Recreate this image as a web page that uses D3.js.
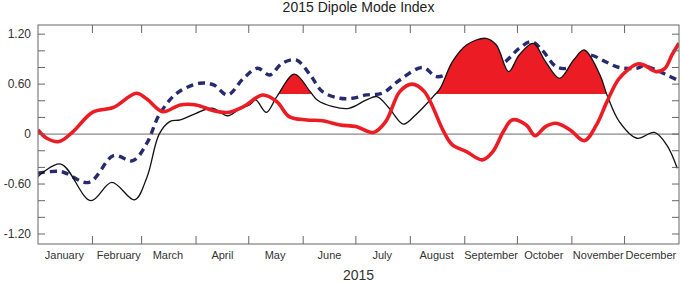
<!DOCTYPE html>
<html>
<head>
<meta charset="utf-8">
<script src="https://cdn.jsdelivr.net/npm/d3@7"></script>
<style>
  html, body { margin: 0; padding: 0; background: #fff; }
  svg { display: block; font-family: "Liberation Sans", Arial, sans-serif; }
</style>
</head>
<body>
<svg id="chart" width="682" height="284"></svg>
<script>
// 2015 DMI: observed (black, filled above threshold), dashed navy, red.
// days = day of year (0 = 1 Jan 2015)
const blackDays = [0, 13, 30, 42, 55, 62, 69, 75, 81, 90, 99, 108, 114, 121, 124, 130, 136, 146, 155, 159, 168, 177, 187, 193, 200, 208, 215, 225, 229, 236, 244, 255, 261, 268, 274, 282, 289, 297, 305, 311, 320, 324, 331, 341, 351, 358, 364];
const blackValues = [-0.51, -0.36, -0.80, -0.58, -0.79, -0.52, 0.0, 0.15, 0.17, 0.25, 0.31, 0.22, 0.29, 0.36, 0.41, 0.26, 0.45, 0.72, 0.51, 0.41, 0.33, 0.31, 0.41, 0.45, 0.31, 0.12, 0.23, 0.45, 0.55, 0.87, 1.07, 1.15, 1.07, 0.75, 0.95, 1.09, 0.87, 0.67, 0.89, 1.01, 0.71, 0.47, 0.15, -0.05, 0.02, -0.13, -0.41];

const redDays = [0, 5, 12, 20, 31, 43, 56, 62, 71, 81, 90, 100, 108, 117, 128, 136, 143, 153, 162, 172, 181, 191, 198, 206, 213, 220, 231, 236, 244, 253, 259, 265, 270, 278, 283, 289, 295, 303, 311, 318, 324, 331, 341, 345, 352, 357, 361, 365];
const redValues = [0.05, -0.05, -0.09, 0.03, 0.26, 0.32, 0.49, 0.42, 0.27, 0.35, 0.35, 0.28, 0.26, 0.33, 0.47, 0.39, 0.21, 0.17, 0.16, 0.11, 0.09, 0.02, 0.15, 0.51, 0.60, 0.51, 0.03, -0.13, -0.21, -0.31, -0.21, 0.03, 0.17, 0.11, -0.02, 0.09, 0.13, 0.05, -0.08, 0.11, 0.39, 0.67, 0.84, 0.83, 0.75, 0.79, 0.95, 1.09];

const dashDays = [0, 13, 29, 43, 54, 62, 69, 79, 92, 100, 108, 117, 125, 132, 139, 147, 155, 162, 172, 179, 187, 196, 206, 219, 227, 236, 249, 264, 274, 281, 287, 295, 301, 307, 314, 323, 331, 341, 345, 352, 358, 364];
const dashValues = [-0.47, -0.45, -0.58, -0.26, -0.32, -0.11, 0.23, 0.49, 0.61, 0.59, 0.47, 0.67, 0.79, 0.71, 0.85, 0.89, 0.71, 0.51, 0.43, 0.43, 0.47, 0.49, 0.65, 0.80, 0.69, 0.74, 0.77, 0.84, 1.03, 1.11, 1.01, 0.81, 0.79, 0.87, 0.95, 0.87, 0.80, 0.79, 0.82, 0.77, 0.71, 0.65];

const threshold = 0.48;
const yTicks = [-1.2, -1.0, -0.8, -0.6, -0.4, -0.2, 0, 0.2, 0.4, 0.6, 0.8, 1.0, 1.2];
const yLabels = { "-1.2": "-1.20", "-0.6": "-0.60", "0": "0", "0.6": "0.60", "1.2": "1.20" };
const monthNames = ["January", "February", "March", "April", "May", "June", "July", "August", "September", "October", "November", "December"];

const W = 682, H = 284;
const margin = { top: 25, right: 3, bottom: 40, left: 38 };
const iw = W - margin.left - margin.right, ih = H - margin.top - margin.bottom;

const svg = d3.select("#chart");
const g = svg.append("g").attr("transform", `translate(${margin.left},${margin.top})`);

const t0 = new Date(2015, 0, 1);
const day = (d) => new Date(2015, 0, 1 + d);
const x = d3.scaleTime().domain([t0, new Date(2016, 0, 1)]).range([0, iw]);
const y = d3.scaleLinear().domain([-1.32, 1.31]).range([ih, 0]);

const pts = (days, vals) => days.map((d, i) => [day(d), vals[i]]);
const line = d3.line().x((d) => x(d[0])).y((d) => y(d[1])).curve(d3.curveCatmullRom.alpha(0.5));

svg.append("defs").append("clipPath").attr("id", "plot")
  .append("rect").attr("width", iw).attr("height", ih);
svg.select("defs").append("clipPath").attr("id", "above")
  .append("rect").attr("width", iw).attr("height", y(threshold));

// zero line
g.append("line").attr("x1", 0).attr("x2", iw).attr("y1", y(0)).attr("y2", y(0))
  .attr("stroke", "#6b6b6b").attr("stroke-width", 1);

const lines = g.append("g").attr("clip-path", "url(#plot)");

lines.append("path").attr("d", line(pts(dashDays, dashValues)))
  .attr("fill", "none").attr("stroke", "#262a6e").attr("stroke-width", 3.4)
  .attr("stroke-dasharray", "7,5");

// fill where black is above threshold
const area = d3.area().x((d) => x(d[0])).y0(y(threshold)).y1((d) => y(d[1]))
  .curve(d3.curveCatmullRom.alpha(0.5));
lines.append("path").attr("d", area(pts(blackDays, blackValues)))
  .attr("fill", "#ec1c24").attr("clip-path", "url(#above)");

lines.append("path").attr("d", line(pts(blackDays, blackValues)))
  .attr("fill", "none").attr("stroke", "#111").attr("stroke-width", 1.3);

lines.append("path").attr("d", line(pts(redDays, redValues)))
  .attr("fill", "none").attr("stroke", "#ec1c24").attr("stroke-width", 3.6)
  .attr("stroke-linejoin", "round");

// frame + inward ticks
const axisColor = "#666";
g.append("rect").attr("width", iw).attr("height", ih)
  .attr("fill", "none").attr("stroke", axisColor).attr("stroke-width", 1);

const months = d3.timeMonth.range(new Date(2015, 1, 1), new Date(2016, 0, 1));
const tk = g.append("g").attr("stroke", axisColor).attr("stroke-width", 1);
tk.selectAll(".tt").data(months).join("line")
  .attr("x1", (d) => x(d)).attr("x2", (d) => x(d)).attr("y1", 0).attr("y2", 8);
tk.selectAll(".tb").data(months).join("line")
  .attr("x1", (d) => x(d)).attr("x2", (d) => x(d)).attr("y1", ih).attr("y2", ih - 8);
tk.selectAll(".tl").data(yTicks).join("line")
  .attr("x1", 0).attr("x2", 7).attr("y1", (d) => y(d)).attr("y2", (d) => y(d));
tk.selectAll(".tr").data(yTicks).join("line")
  .attr("x1", iw).attr("x2", iw - 7).attr("y1", (d) => y(d)).attr("y2", (d) => y(d));

// labels
const txt = "#333";
g.selectAll(".yl").data(yTicks.filter((d) => yLabels[String(d)] != null)).join("text")
  .attr("x", -7).attr("y", (d) => y(d)).attr("dy", "0.35em")
  .attr("text-anchor", "end").attr("font-size", 12).attr("fill", txt)
  .text((d) => yLabels[String(d)]);

g.selectAll(".ml").data(monthNames).join("text")
  .attr("x", (d, i) => x(new Date(2015, i, 16)))
  .attr("y", ih + 15).attr("text-anchor", "middle").attr("font-size", 11).attr("fill", txt)
  .text((d) => d);

g.append("text").attr("x", iw / 2).attr("y", ih + 36).attr("text-anchor", "middle")
  .attr("font-size", 14).attr("fill", txt).text("2015");

svg.append("text").attr("x", margin.left + iw / 2).attr("y", 12).attr("text-anchor", "middle")
  .attr("font-size", 14).attr("fill", "#222").text("2015 Dipole Mode Index");
</script>
</body>
</html>
